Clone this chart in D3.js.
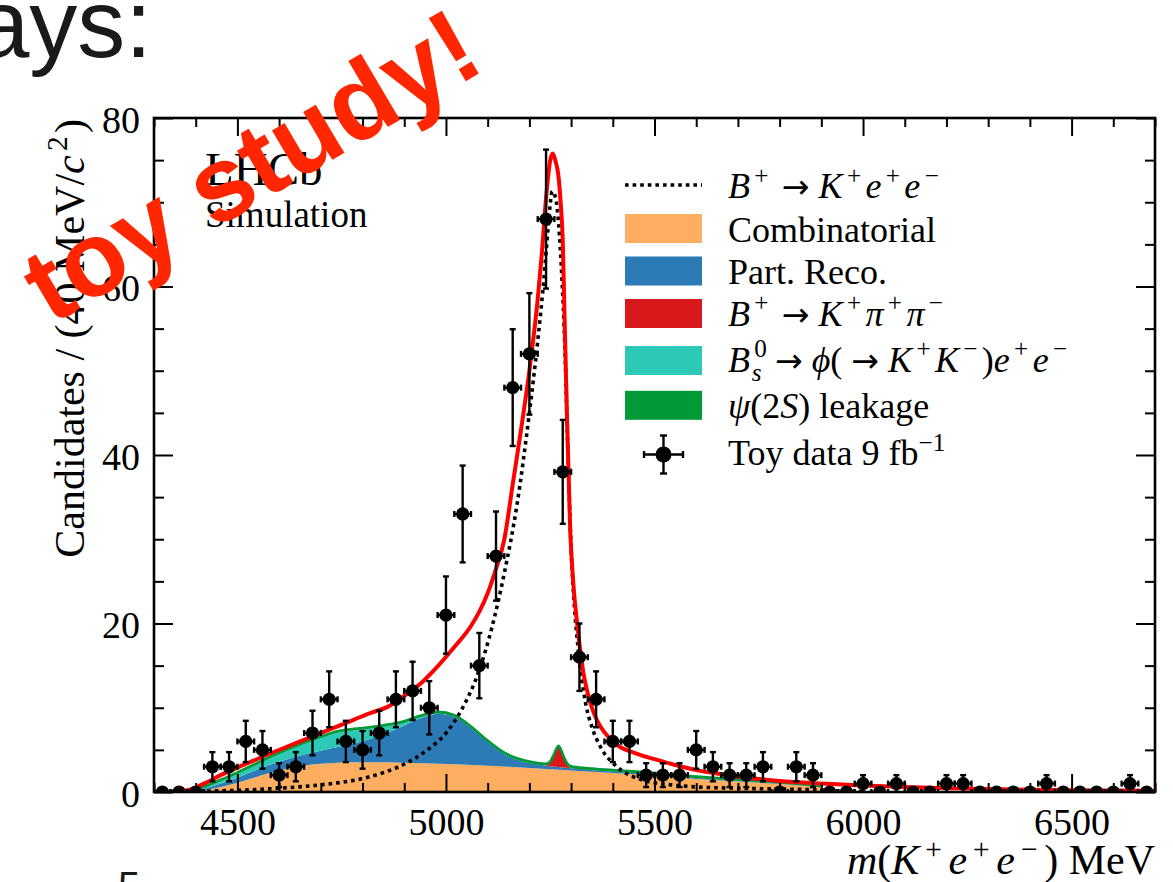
<!DOCTYPE html>
<html>
<head>
<meta charset="utf-8">
<script src="https://cdn.jsdelivr.net/npm/d3@7"></script>
<style>
  body { margin: 0; background: #ffffff; }
  svg { display: block; }
</style>
</head>
<body>
<svg id="chart" width="1173" height="882"></svg>
<script>
// ---------------------------------------------------------------
// Data
// ---------------------------------------------------------------

// Histogram binning of the toy data (MeV)
const massStart = 4300;
const binWidth = 40;

// Candidates per 40 MeV bin, 4300 - 6700 MeV
const toyCounts = [
  0, 0, 0, 3, 3, 6, 5, 2, 3, 7,
  11, 6, 5, 7, 11, 12, 10, 21, 33, 15,
  28, 48, 52, 68, 38, 16, 11, 6, 6, 2,
  2, 2, 5, 3, 2, 2, 3, 0, 3, 2,
  0, 0, 1, 0, 1, 0, 0, 1, 1, 0,
  0, 0, 0, 1, 0, 0, 0, 0, 1, 0
];

// Stacked background components, sampled on a common mass grid
const stackMass = [
  4300, 4340, 4380, 4420, 4460, 4500, 4540, 4580, 4620, 4660,
  4700, 4740, 4780, 4820, 4860, 4900, 4940, 4980, 5020, 5060,
  5100, 5140, 5180, 5220, 5240, 5250, 5255, 5260, 5265, 5270,
  5275, 5280, 5285, 5290, 5300, 5340, 5400, 5500, 5600, 5700,
  5800, 5880, 5900
];
const combinatorial = [
  0, 0, 0, 0.2, 0.6, 1.1, 1.7, 2.3, 2.8, 3.15,
  3.35, 3.48, 3.52, 3.53, 3.52, 3.48, 3.42, 3.35, 3.28, 3.2,
  3.12, 3.03, 2.92, 2.8, 2.74, 2.71, 2.7, 2.68, 2.67, 2.65,
  2.64, 2.62, 2.61, 2.6, 2.55, 2.42, 2.25, 1.95, 1.55, 1.25,
  0.95, 0.65, 0.55
];
const partReco = [
  0, 0, 0.05, 0.2, 0.4, 0.6, 0.78, 0.95, 1.1, 1.3,
  1.55, 1.85, 2.25, 2.8, 3.5, 4.4, 5.35, 5.95, 5.65, 4.4,
  2.8, 1.45, 0.75, 0.45, 0.38, 0.35, 0.34, 0.33, 0.32, 0.31,
  0.3, 0.29, 0.28, 0.27, 0.26, 0.22, 0.18, 0.14, 0.1, 0.08,
  0.06, 0.05, 0.05
];
const kpipi = [
  0, 0, 0, 0, 0, 0, 0, 0, 0, 0,
  0, 0, 0, 0, 0, 0, 0, 0, 0, 0,
  0, 0, 0, 0, 0.05, 0.4, 0.85, 1.4, 2.0, 2.35,
  2.0, 1.4, 0.85, 0.4, 0.05, 0, 0, 0, 0, 0,
  0, 0, 0
];
const bsPhiEE = [
  0, 0, 0.05, 0.15, 0.3, 0.45, 0.6, 0.8, 1.0, 1.25,
  1.5, 1.7, 1.55, 1.2, 0.8, 0.35, 0.12, 0.03, 0, 0,
  0, 0, 0, 0, 0, 0, 0, 0, 0, 0,
  0, 0, 0, 0, 0, 0, 0, 0, 0, 0,
  0, 0, 0
];
const psi2S = [
  0, 0, 0.03, 0.1, 0.15, 0.18, 0.18, 0.18, 0.18, 0.18,
  0.18, 0.18, 0.18, 0.18, 0.18, 0.18, 0.18, 0.18, 0.18, 0.18,
  0.18, 0.18, 0.18, 0.18, 0.18, 0.18, 0.18, 0.18, 0.18, 0.18,
  0.18, 0.18, 0.18, 0.18, 0.18, 0.18, 0.18, 0.18, 0.18, 0.18,
  0.15, 0.12, 0.1
];

// Signal B+ -> K+ e+ e- shape
const signalMass = [
  4300, 4400, 4500, 4600, 4700, 4800, 4850, 4900, 4950, 5000,
  5040, 5080, 5110, 5140, 5170, 5200, 5220, 5235, 5245, 5255,
  5263, 5270, 5278, 5285, 5292, 5300, 5308, 5316, 5335, 5350,
  5370, 5410, 5460, 5500, 5550, 5600, 5700, 5800, 5880, 5950,
  6000
];
const signalValues = [
  0.05, 0.1, 0.2, 0.45, 0.85, 1.6, 2.3, 3.3, 4.8, 7.0,
  10, 14.5, 19.5, 26, 34, 45, 53.5, 61, 67, 71.3,
  70.5, 67.5, 61, 53, 41, 29, 22, 17.5, 10.5, 7.7,
  5.4, 3.0, 1.6, 1.1, 0.8, 0.6, 0.45, 0.35, 0.28, 0.12,
  0.05
];

// Total fit
const totalMass = [
  4300, 4340, 4380, 4420, 4460, 4500, 4540, 4580, 4620, 4660,
  4700, 4740, 4780, 4820, 4860, 4900, 4940, 4980, 5020, 5060,
  5080, 5100, 5120, 5140, 5160, 5180, 5200, 5210, 5220, 5230,
  5240, 5250, 5256, 5262, 5270, 5275, 5280, 5285, 5290, 5298,
  5305, 5315, 5330, 5340, 5355, 5370, 5390, 5410, 5460, 5500,
  5550, 5600, 5650, 5700, 5800, 5900, 6000, 6100, 6200, 6300,
  6400, 6500, 6600, 6700
];
const totalValues = [
  0, 0.05, 0.2, 1.0, 2.0, 2.9, 3.75, 4.6, 5.4, 6.2,
  7.0, 7.8, 8.6, 9.4, 10.1, 11.4, 12.9, 14.9, 17.2, 19.7,
  21.4, 23.6, 26.5, 30, 36.5, 43, 50, 54, 58.5, 64,
  70.5, 75, 75.8, 75, 73, 70, 65.5, 55, 45, 31,
  25, 19.8, 14, 11.7, 9.3, 7.8, 6.5, 5.6, 4.5, 3.9,
  3.2, 2.6, 2.2, 1.85, 1.3, 1.0, 0.78, 0.6, 0.46, 0.36,
  0.28, 0.22, 0.17, 0.13
];

// Axis ticks
const xMajorTicks = [4500, 5000, 5500, 6000, 6500];
const xMinorTicks = [4300, 4400, 4600, 4700, 4800, 4900, 5100, 5200, 5300, 5400,
                     5600, 5700, 5800, 5900, 6100, 6200, 6300, 6400, 6600, 6700];
const yMajorTicks = [0, 20, 40, 60, 80];
const yMinorTicks = [5, 10, 15, 25, 30, 35, 45, 50, 55, 65, 70, 75];

// Stack components: key, colour, legend label (rich text parts)
const ARROW = { t: "\u2192", arrow: 1 };
const components = [
  { key: "comb",  color: "#fdae61", label: [{ t: "Combinatorial" }] },
  { key: "prec",  color: "#2c7bb6", label: [{ t: "Part. Reco." }] },
  { key: "kpp",   color: "#d7191c", label: [
      { t: "B", i: 1 }, { t: "+", sup: 1 }, { t: " " }, ARROW, { t: " " }, { t: "K", i: 1 }, { t: "+", sup: 1 },
      { t: "\u03C0", i: 1 }, { t: "+", sup: 1 }, { t: "\u03C0", i: 1 }, { t: "\u2212", sup: 1 } ] },
  { key: "bs",    color: "#2ccab6", label: [
      { t: "B", i: 1 }, { t: "0", sup: 1 }, { t: "s", sub: 1, i: 1, back: 0.42 }, { t: " " }, ARROW, { t: " " },
      { t: "\u03D5", i: 1 }, { t: "( " }, ARROW, { t: " " }, { t: "K", i: 1 }, { t: "+", sup: 1 },
      { t: "K", i: 1 }, { t: "\u2212", sup: 1 }, { t: ")" }, { t: "e", i: 1 }, { t: "+", sup: 1 },
      { t: "e", i: 1 }, { t: "\u2212", sup: 1 } ] },
  { key: "psi",   color: "#019a36", label: [
      { t: "\u03C8", i: 1 }, { t: "(2" }, { t: "S", i: 1 }, { t: ") leakage" } ] }
];
const componentValues = {
  comb: combinatorial, prec: partReco, kpp: kpipi, bs: bsPhiEE, psi: psi2S
};

const signalLabel = [
  { t: "B", i: 1 }, { t: "+", sup: 1 }, { t: " " }, ARROW, { t: " " }, { t: "K", i: 1 }, { t: "+", sup: 1 },
  { t: "e", i: 1 }, { t: "+", sup: 1 }, { t: "e", i: 1 }, { t: "\u2212", sup: 1 }
];
const dataLabel = [{ t: "Toy data 9 fb" }, { t: "\u22121", sup: 1, tight: 1 }];
const xTitleParts = [
  { t: "m", i: 1 }, { t: "(" }, { t: "K", i: 1 }, { t: "+", sup: 1 }, { t: "e", i: 1 }, { t: "+", sup: 1 },
  { t: "e", i: 1 }, { t: "\u2212", sup: 1 }, { t: ") MeV" }
];
const yTitleParts = [
  { t: "Candidates / (40 MeV/" }, { t: "c", i: 1 }, { t: "2", sup: 1 }, { t: ")" }
];

// ---------------------------------------------------------------
// Layout
// ---------------------------------------------------------------
const svg = d3.select("#chart");
const plot = { left: 154, right: 1155, top: 118, bottom: 792 };
const serif = "'Liberation Serif', 'Times New Roman', serif";
const sans = "'Liberation Sans', Arial, Helvetica, sans-serif";

const x = d3.scaleLinear().domain([4300, 6700]).range([plot.left, plot.right]);
const y = d3.scaleLinear().domain([0, 80]).range([plot.bottom, plot.top]);

svg.append("rect").attr("width", 1173).attr("height", 882).attr("fill", "#ffffff");

// Rich text helper: italic, superscript and subscript runs, math-style spacing
function richText(textSel, parts, size, opts = {}) {
  const preGap = opts.preGap !== undefined ? opts.preGap : 0.1;
  const postGap = opts.postGap !== undefined ? opts.postGap : 0.08;
  const supRise = opts.supRise !== undefined ? opts.supRise : 0.4;
  let shift = 0;
  let prevScript = false;
  parts.forEach(p => {
    const ts = textSel.append("tspan").text(p.t);
    const isScript = !!(p.sup || p.sub);
    let target = 0;
    if (p.sup) target = -supRise * size;
    if (p.sub) target = 0.25 * size;
    const dy = target - shift;
    shift = target;
    if (dy !== 0) ts.attr("dy", dy);
    let dx = 0;
    if (p.back) dx = -p.back * size;
    else if (isScript && !prevScript && !p.tight) dx = preGap * size;
    else if (!isScript && prevScript) dx = postGap * size;
    if (dx !== 0) ts.attr("dx", dx);
    if (isScript) ts.attr("font-size", size * 0.7);
    if (p.i) ts.attr("font-style", "italic");
    if (p.arrow) ts.attr("font-family", "'DejaVu Sans', sans-serif").attr("font-size", size * 0.92);
    prevScript = isScript;
  });
}

const defs = svg.append("defs");
defs.append("clipPath").attr("id", "plot-clip")
  .append("rect")
  .attr("x", plot.left).attr("y", plot.top)
  .attr("width", plot.right - plot.left).attr("height", plot.bottom - plot.top);

const inner = svg.append("g").attr("clip-path", "url(#plot-clip)");

// Stacked backgrounds
const stackRows = stackMass.map((m, i) => {
  const row = { mass: m };
  components.forEach(c => { row[c.key] = componentValues[c.key][i]; });
  return row;
});
const stacked = d3.stack().keys(components.map(c => c.key))(stackRows);

const area = d3.area()
  .x(d => x(d.data.mass))
  .y0(d => y(d[0]))
  .y1(d => y(d[1]))
  .curve(d3.curveMonotoneX);

inner.selectAll("path.stack")
  .data(stacked)
  .join("path")
  .attr("class", "stack")
  .attr("fill", (d, i) => components[i].color)
  .attr("d", area);

// Outline on top of the stack
const topLayer = stacked[stacked.length - 1];
inner.append("path")
  .datum(topLayer)
  .attr("fill", "none")
  .attr("stroke", "#019a36")
  .attr("stroke-width", 2.6)
  .attr("d", d3.line().x(d => x(d.data.mass)).y(d => y(d[1])).curve(d3.curveMonotoneX));

// Signal (dotted)
const signalPts = signalMass.map((m, i) => [m, signalValues[i]]);
inner.append("path")
  .datum(signalPts)
  .attr("fill", "none")
  .attr("stroke", "#000000")
  .attr("stroke-width", 3.6)
  .attr("stroke-dasharray", "3.6,4")
  .attr("d", d3.line().x(d => x(d[0])).y(d => y(d[1])).curve(d3.curveMonotoneX));

// Total fit
const totalPts = totalMass.map((m, i) => [m, totalValues[i]]);
inner.append("path")
  .datum(totalPts)
  .attr("fill", "none")
  .attr("stroke", "#ff0000")
  .attr("stroke-width", 4)
  .attr("stroke-linejoin", "round")
  .attr("d", d3.line().x(d => x(d[0])).y(d => y(d[1])).curve(d3.curveMonotoneX));

// Toy data with error bars
const bins = toyCounts.map((n, i) => ({
  lo: massStart + i * binWidth,
  hi: massStart + (i + 1) * binWidth,
  mid: massStart + (i + 0.5) * binWidth,
  n: n,
  err: Math.sqrt(n)
}));
const cap = 3;
const pts = inner.append("g").attr("stroke", "#000").attr("stroke-width", 2.4);
bins.forEach(b => {
  const g = pts.append("g");
  // horizontal (bin width) bar with end caps
  g.append("line").attr("x1", x(b.lo)).attr("x2", x(b.hi)).attr("y1", y(b.n)).attr("y2", y(b.n));
  g.append("line").attr("x1", x(b.lo)).attr("x2", x(b.lo)).attr("y1", y(b.n) - cap).attr("y2", y(b.n) + cap);
  g.append("line").attr("x1", x(b.hi)).attr("x2", x(b.hi)).attr("y1", y(b.n) - cap).attr("y2", y(b.n) + cap);
  if (b.err > 0) {
    g.append("line").attr("x1", x(b.mid)).attr("x2", x(b.mid)).attr("y1", y(b.n - b.err)).attr("y2", y(b.n + b.err));
    g.append("line").attr("x1", x(b.mid) - cap).attr("x2", x(b.mid) + cap).attr("y1", y(b.n - b.err)).attr("y2", y(b.n - b.err));
    g.append("line").attr("x1", x(b.mid) - cap).attr("x2", x(b.mid) + cap).attr("y1", y(b.n + b.err)).attr("y2", y(b.n + b.err));
  }
  g.append("circle").attr("cx", x(b.mid)).attr("cy", y(b.n)).attr("r", 6.6).attr("fill", "#000").attr("stroke", "none");
});

// ---------------------------------------------------------------
// Axes (inward ticks on all four sides)
// ---------------------------------------------------------------
function styleAxis(g) {
  g.select(".domain").remove();
  g.selectAll(".tick line").attr("stroke", "#000").attr("stroke-width", 2);
  g.selectAll(".tick text").attr("fill", "#000");
  g.attr("font-family", serif).attr("font-size", 38);
}

svg.append("g").attr("transform", `translate(0,${plot.bottom})`)
  .call(d3.axisBottom(x).tickValues(xMajorTicks).tickSize(-18).tickPadding(16).tickFormat(d3.format("d")))
  .call(styleAxis);
svg.append("g").attr("transform", `translate(0,${plot.bottom})`)
  .call(d3.axisBottom(x).tickValues(xMinorTicks).tickSize(-9).tickFormat(""))
  .call(styleAxis);
svg.append("g").attr("transform", `translate(0,${plot.top})`)
  .call(d3.axisTop(x).tickValues(xMajorTicks).tickSize(-18).tickFormat(""))
  .call(styleAxis);
svg.append("g").attr("transform", `translate(0,${plot.top})`)
  .call(d3.axisTop(x).tickValues(xMinorTicks).tickSize(-9).tickFormat(""))
  .call(styleAxis);

const yAxisG = svg.append("g").attr("transform", `translate(${plot.left},0)`)
  .call(d3.axisLeft(y).tickValues(yMajorTicks).tickSize(-19).tickPadding(14))
  .call(styleAxis);
yAxisG.selectAll(".tick text").attr("dy", "0.38em");
svg.append("g").attr("transform", `translate(${plot.left},0)`)
  .call(d3.axisLeft(y).tickValues(yMinorTicks).tickSize(-10).tickFormat(""))
  .call(styleAxis);
svg.append("g").attr("transform", `translate(${plot.right},0)`)
  .call(d3.axisRight(y).tickValues(yMajorTicks).tickSize(-19).tickFormat(""))
  .call(styleAxis);
svg.append("g").attr("transform", `translate(${plot.right},0)`)
  .call(d3.axisRight(y).tickValues(yMinorTicks).tickSize(-10).tickFormat(""))
  .call(styleAxis);

// Frame
svg.append("rect")
  .attr("x", plot.left).attr("y", plot.top)
  .attr("width", plot.right - plot.left).attr("height", plot.bottom - plot.top)
  .attr("fill", "none").attr("stroke", "#000").attr("stroke-width", 2.6);

// Axis titles
const xTitle = svg.append("text")
  .attr("x", plot.right).attr("y", 874)
  .attr("text-anchor", "end")
  .attr("font-family", serif).attr("font-size", 42).attr("fill", "#000");
richText(xTitle, xTitleParts, 42, { preGap: 0.14, postGap: 0.16, supRise: 0.36 });

const yTitle = svg.append("text")
  .attr("transform", `translate(84,${plot.top + 1}) rotate(-90)`)
  .attr("text-anchor", "end")
  .attr("font-family", serif).attr("font-size", 42).attr("fill", "#000");
richText(yTitle, yTitleParts, 42);

// Experiment tag
svg.append("text").attr("x", 205).attr("y", 185)
  .attr("font-family", serif).attr("font-size", 47).attr("fill", "#000").text("LHCb");
svg.append("text").attr("x", 205).attr("y", 227)
  .attr("font-family", serif).attr("font-size", 37).attr("fill", "#000").text("Simulation");

// ---------------------------------------------------------------
// Legend
// ---------------------------------------------------------------
const legend = svg.append("g");
const legendTextX = 728;
const legendFont = 36;
const legendOpts = { preGap: 0.12, postGap: 0.12 };
const handleX0 = 625, handleX1 = 702;

// signal row
legend.append("line")
  .attr("x1", handleX0).attr("x2", handleX1).attr("y1", 185).attr("y2", 185)
  .attr("stroke", "#000").attr("stroke-width", 3.6).attr("stroke-dasharray", "3.6,4");
richText(legend.append("text").attr("x", legendTextX).attr("y", 198)
  .attr("font-family", serif).attr("font-size", legendFont), signalLabel, legendFont, legendOpts);

// component rows
const rowCentres = [228.5, 271, 313.5, 360.5, 405.3];
const rowBaselines = [241.7, 284, 325.7, 371.7, 418];
components.forEach((c, i) => {
  legend.append("rect")
    .attr("x", handleX0).attr("y", rowCentres[i] - 14.5)
    .attr("width", handleX1 - handleX0).attr("height", 29)
    .attr("fill", c.color);
  richText(legend.append("text").attr("x", legendTextX).attr("y", rowBaselines[i])
    .attr("font-family", serif).attr("font-size", legendFont), c.label, legendFont, legendOpts);
});

// data row
const lgY = 454.5, lgX = 663.5;
const lg = legend.append("g").attr("stroke", "#000").attr("stroke-width", 2.4);
lg.append("line").attr("x1", lgX - 19.5).attr("x2", lgX + 19.5).attr("y1", lgY).attr("y2", lgY);
lg.append("line").attr("x1", lgX).attr("x2", lgX).attr("y1", lgY - 19).attr("y2", lgY + 19);
lg.append("line").attr("x1", lgX - 19.5).attr("x2", lgX - 19.5).attr("y1", lgY - 3.5).attr("y2", lgY + 3.5);
lg.append("line").attr("x1", lgX + 19.5).attr("x2", lgX + 19.5).attr("y1", lgY - 3.5).attr("y2", lgY + 3.5);
lg.append("line").attr("x1", lgX - 3.5).attr("x2", lgX + 3.5).attr("y1", lgY - 19).attr("y2", lgY - 19);
lg.append("line").attr("x1", lgX - 3.5).attr("x2", lgX + 3.5).attr("y1", lgY + 19).attr("y2", lgY + 19);
lg.append("circle").attr("cx", lgX).attr("cy", lgY).attr("r", 8).attr("fill", "#000").attr("stroke", "none");
richText(legend.append("text").attr("x", legendTextX).attr("y", 465)
  .attr("font-family", serif).attr("font-size", legendFont), dataLabel, legendFont, legendOpts);

// ---------------------------------------------------------------
// Slide text around the figure
// ---------------------------------------------------------------
svg.append("text").attr("x", 152).attr("y", 57)
  .attr("text-anchor", "end")
  .attr("font-family", sans).attr("font-size", 96).attr("fill", "#1a1a1a")
  .text("ays:");
svg.append("text").attr("x", 118).attr("y", 900)
  .attr("font-family", sans).attr("font-size", 40).attr("fill", "#1a1a1a")
  .text("5");

svg.append("text")
  .attr("transform", "translate(250,164) rotate(-30.5)")
  .attr("text-anchor", "middle")
  .attr("dy", "0.36em")
  .attr("font-family", sans).attr("font-weight", "bold")
  .attr("font-size", 106).attr("fill", "#ff2600")
  .text("toy study!");
</script>
</body>
</html>
